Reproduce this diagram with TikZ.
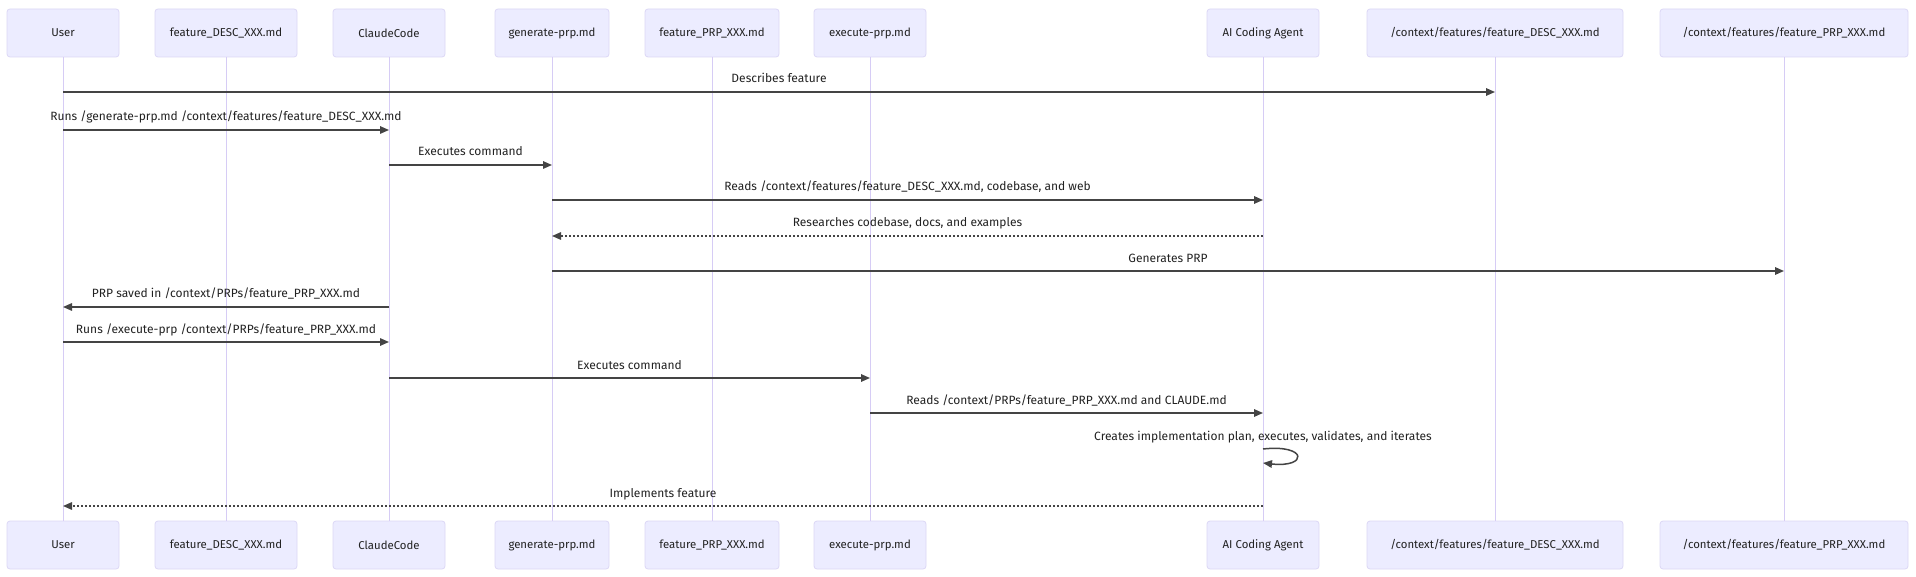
\documentclass[tikz,border=0pt]{standalone}
\usepackage{fontspec}
\setmainfont{Fira Sans}
\usetikzlibrary{arrows.meta}
\definecolor{boxfill}{HTML}{ECECFF}
\definecolor{boxline}{HTML}{DCD8F6}
\definecolor{lifecol}{HTML}{D6CCF5}
\definecolor{msgline}{HTML}{444444}
\definecolor{txt}{HTML}{222222}
\tikzset{
  actor/.style={draw=boxline, fill=boxfill, rounded corners=3pt, minimum height=48pt, inner sep=0pt, font=\fontsize{11.4}{13}\selectfont, text=txt, line width=0.8pt},
  life/.style={draw=lifecol, line width=1pt},
  msg/.style={draw=msgline, line width=1.5pt, -{Triangle[length=9pt,width=7.5pt]}},
  reply/.style={msg, dash pattern=on 2pt off 2pt},
  lbltext/.style={font=\fontsize{12}{14}\selectfont, text=txt, anchor=base},
  lbl/.style={lbltext, yshift=9pt},
}
\begin{document}
\begin{tikzpicture}[x=1pt,y=-1pt]
\path[use as bounding box, fill=white] (0,0) rectangle (1916,577);
% top actors
\node[actor, minimum width=112pt] (u)  at (63,33)   {User};
\node[actor, minimum width=142pt] (d)  at (226,33)  {feature\_DESC\_XXX.md};
\node[actor, minimum width=112pt] (c)  at (389,33)  {ClaudeCode};
\node[actor, minimum width=114pt] (g)  at (552,33)  {generate-prp.md};
\node[actor, minimum width=134pt] (p)  at (712,33)  {feature\_PRP\_XXX.md};
\node[actor, minimum width=112pt] (e)  at (870,33)  {execute-prp.md};
\node[actor, minimum width=112pt] (a)  at (1263,33) {AI Coding Agent};
\node[actor, minimum width=256pt] (cd) at (1495,33) {/context/features/feature\_DESC\_XXX.md};
\node[actor, minimum width=248pt] (cp) at (1784,33) {/context/features/feature\_PRP\_XXX.md};
% bottom actors
\node[actor, minimum width=112pt] (u2)  at (63,545)   {User};
\node[actor, minimum width=142pt] (d2)  at (226,545)  {feature\_DESC\_XXX.md};
\node[actor, minimum width=112pt] (c2)  at (389,545)  {ClaudeCode};
\node[actor, minimum width=114pt] (g2)  at (552,545)  {generate-prp.md};
\node[actor, minimum width=134pt] (p2)  at (712,545)  {feature\_PRP\_XXX.md};
\node[actor, minimum width=112pt] (e2)  at (870,545)  {execute-prp.md};
\node[actor, minimum width=112pt] (a2)  at (1263,545) {AI Coding Agent};
\node[actor, minimum width=256pt] (cd2) at (1495,545) {/context/features/feature\_DESC\_XXX.md};
\node[actor, minimum width=248pt] (cp2) at (1784,545) {/context/features/feature\_PRP\_XXX.md};
% lifelines
\foreach \t in {u,d,c,g,p,e,a,cd,cp}{
  \draw[life] (\t.south) -- (\t2.north);
}
% message rows
\coordinate (r1) at (0,92);
\coordinate (r2) at (0,130);
\coordinate (r3) at (0,165);
\coordinate (r4) at (0,200);
\coordinate (r5) at (0,236);
\coordinate (r6) at (0,271);
\coordinate (r7) at (0,307);
\coordinate (r8) at (0,342);
\coordinate (r9) at (0,378);
\coordinate (r10) at (0,413);
\coordinate (r11a) at (0,449);
\coordinate (r11b) at (0,463);
\coordinate (r12) at (0,506);
\draw[msg] (u |- r1) -- (cd |- r1) node[lbl, midway] {Describes feature};
\draw[msg] (u |- r2) -- (c |- r2) node[lbl, midway] {Runs /generate-prp.md /context/features/feature\_DESC\_XXX.md};
\draw[msg] (c |- r3) -- (g |- r3) node[lbl, midway] {Executes command};
\draw[msg] (g |- r4) -- (a |- r4) node[lbl, midway] {Reads /context/features/feature\_DESC\_XXX.md, codebase, and web};
\draw[reply] (a |- r5) -- (g |- r5) node[lbl, midway] {Researches codebase, docs, and examples};
\draw[msg] (g |- r6) -- (cp |- r6) node[lbl, midway] {Generates PRP};
\draw[msg] (c |- r7) -- (u |- r7) node[lbl, midway] {PRP saved in /context/PRPs/feature\_PRP\_XXX.md};
\draw[msg] (u |- r8) -- (c |- r8) node[lbl, midway] {Runs /execute-prp /context/PRPs/feature\_PRP\_XXX.md};
\draw[msg] (c |- r9) -- (e |- r9) node[lbl, midway] {Executes command};
\draw[msg] (e |- r10) -- (a |- r10) node[lbl, midway] {Reads /context/PRPs/feature\_PRP\_XXX.md and CLAUDE.md};
\node[lbltext] (loopl) at (1263,440) {Creates implementation plan, executes, validates, and iterates};
\draw[msg] (a |- r11a) .. controls +(45,-5) and +(45,5) .. (a |- r11b);
\draw[reply] (a |- r12) -- (u |- r12) node[lbl, midway] {Implements feature};
\end{tikzpicture}
\end{document}
